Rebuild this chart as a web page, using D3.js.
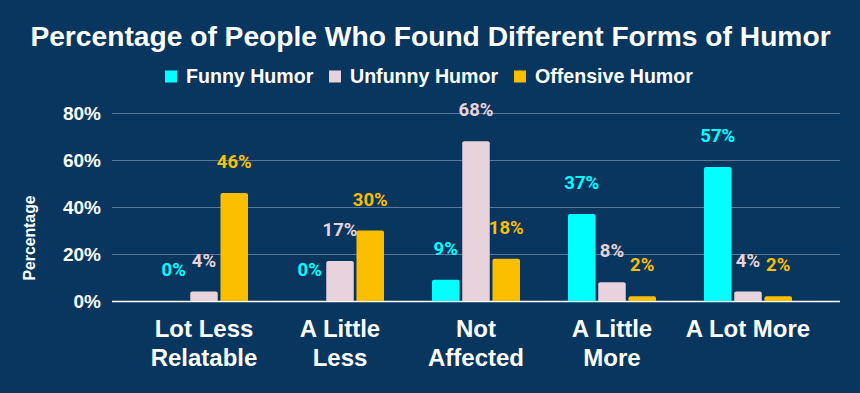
<!DOCTYPE html>
<html>
<head>
<meta charset="utf-8">
<script src="https://cdn.jsdelivr.net/npm/d3@7"></script>
<style>
  html, body { margin: 0; padding: 0; background: #08365f; }
  svg { display: block; font-family: "Liberation Sans", Arial, sans-serif; }
</style>
</head>
<body>
<svg width="860" height="393"></svg>
<script>
const categories = [["Lot Less", "Relatable"], ["A Little", "Less"], ["Not", "Affected"], ["A Little", "More"], ["A Lot More"]];
const seriesNames = ["Funny Humor", "Unfunny Humor", "Offensive Humor"];
const funny = [0, 0, 9, 37, 57];
const unfunny = [4, 17, 68, 8, 4];
const offensive = [46, 30, 18, 2, 2];
const yTicks = [0, 20, 40, 60, 80];
const colors = ["#00ffff", "#e8d3dc", "#fbbf00"];

const svg = d3.select("svg"),
    width = +svg.attr("width"),
    height = +svg.attr("height");

const margin = {left: 112, right: 20, top: 113, bottom: 92};
const plotW = width - margin.left - margin.right;
const baseY = height - margin.bottom;

const values = [funny, unfunny, offensive];
const groups = categories.map((c, i) => ({
    key: i, label: c,
    bars: seriesNames.map((s, j) => ({series: j, value: values[j][i]}))
}));

const x0 = d3.scaleBand().domain(d3.range(categories.length))
    .range([margin.left, margin.left + plotW]).padding(0.353);
const x1 = d3.scaleBand().domain(d3.range(seriesNames.length))
    .range([0, x0.bandwidth()]).paddingInner(0.09);
const y = d3.scaleLinear().domain([0, 80]).range([baseY, margin.top]);

// background
svg.append("rect").attr("width", width).attr("height", height).attr("fill", "#08365f");

// title
svg.append("text")
    .attr("x", width / 2 + 0.5).attr("y", 46)
    .attr("text-anchor", "middle")
    .attr("fill", "#fff").attr("font-weight", "bold").attr("font-size", 28.2)
    .text("Percentage of People Who Found Different Forms of Humor");

// legend
const legendX = [165, 329, 514];
const legend = svg.append("g");
seriesNames.forEach((s, j) => {
    const g = legend.append("g").attr("transform", `translate(${legendX[j]},70.5)`);
    g.append("rect").attr("width", 12).attr("height", 12).attr("fill", colors[j]);
    g.append("text").attr("x", 21).attr("y", 12.8)
        .attr("fill", "#fff").attr("font-weight", "bold").attr("font-size", 19.6)
        .text(s);
});

// grid + y axis
const yAxis = svg.append("g")
    .attr("transform", `translate(${margin.left},0)`)
    .call(d3.axisLeft(y).tickValues(yTicks).tickSize(-plotW).tickFormat(d => d + "%"));
yAxis.select(".domain").remove();
yAxis.selectAll(".tick line")
    .attr("stroke", d => d === 0 ? "#ffffff" : "#5a7a9a")
    .attr("stroke-width", d => d === 0 ? 1.5 : 1);
yAxis.selectAll(".tick text")
    .attr("x", -11).attr("dy", "0.36em")
    .attr("fill", "#fff").attr("font-size", 19).attr("font-weight", "bold")
    .attr("font-family", "Liberation Sans, Arial, sans-serif");

svg.append("text")
    .attr("transform", `translate(34.5,238) rotate(-90)`)
    .attr("text-anchor", "middle")
    .attr("fill", "#fff").attr("font-weight", "bold").attr("font-size", 15.8)
    .text("Percentage");

// bars
const groupSel = svg.append("g").selectAll("g").data(groups).join("g")
    .attr("transform", d => `translate(${x0(d.key)},0)`);

groupSel.selectAll("path").data(d => d.bars.filter(b => b.value > 0)).join("path")
    .attr("fill", d => colors[d.series])
    .attr("d", d => {
        const bx = x1(d.series), bw = x1.bandwidth();
        const top = y(d.value), r = Math.min(2, (baseY - top) / 2);
        return `M${bx},${baseY}V${top + r}Q${bx},${top} ${bx + r},${top}H${bx + bw - r}Q${bx + bw},${top} ${bx + bw},${top + r}V${baseY}Z`;
    });

groupSel.selectAll("text.val").data(d => d.bars).join("text")
    .attr("class", "val")
    .attr("x", d => x1(d.series) + x1.bandwidth() / 2)
    .attr("y", d => y(d.value) - 25)
    .attr("text-anchor", "middle")
    .attr("fill", d => colors[d.series])
    .attr("font-family", "Roboto, sans-serif")
    .attr("font-weight", "bold").attr("font-size", 18.5)
    .text(d => d.value + "%");

// category labels
const catSel = svg.append("g").selectAll("text").data(groups).join("text")
    .attr("text-anchor", "middle")
    .attr("fill", "#fff").attr("font-weight", "bold").attr("font-size", 24)
    .attr("x", d => x0(d.key) + x0.bandwidth() / 2)
    .attr("y", 337);
catSel.selectAll("tspan").data(d => d.label).join("tspan")
    .attr("x", function() { return d3.select(this.parentNode).attr("x"); })
    .attr("dy", (d, i) => i === 0 ? 0 : 29)
    .text(d => d);
</script>
</body>
</html>
